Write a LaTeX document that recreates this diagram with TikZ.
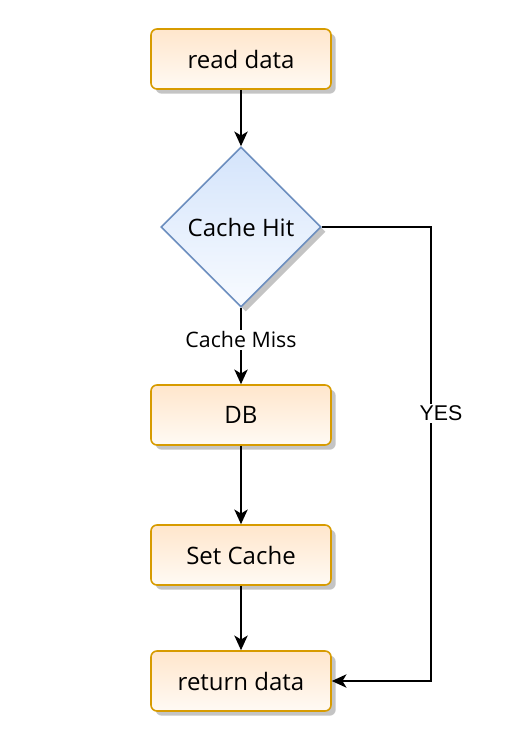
\documentclass[tikz,border=0pt]{standalone}
\usepackage{fontspec}
\setmainfont{Open Sans}
\newfontfamily\yesfont{Liberation Sans}
\usetikzlibrary{shapes.geometric,shadows,arrows.meta}
\definecolor{boxtop}{HTML}{FFE6CC}
\definecolor{boxbot}{HTML}{FFFAF4}
\definecolor{boxline}{HTML}{D79B00}
\definecolor{dtop}{HTML}{D4E4FB}
\definecolor{dbot}{HTML}{F8FBFF}
\definecolor{dline}{HTML}{6C8EBF}
\definecolor{shadowgray}{HTML}{C4C4C4}
\tikzset{
  procbox/.style={rectangle, rounded corners=4.5pt, draw=boxline, line width=1.2pt,
    top color=boxtop, bottom color=boxbot, minimum width=135pt, minimum height=45pt,
    inner sep=0pt, font=\fontsize{18}{21}\selectfont,
    drop shadow={shadow xshift=3.5pt, shadow yshift=-3.5pt, fill=shadowgray, opacity=1}},
  decision/.style={diamond, aspect=1, draw=dline, line width=1.2pt,
    top color=dtop, bottom color=dbot, minimum width=120pt, minimum height=120pt,
    inner sep=0pt, font=\fontsize{18}{21}\selectfont,
    drop shadow={shadow xshift=3.5pt, shadow yshift=-3.5pt, fill=shadowgray, opacity=1}},
  conn/.style={draw=black, line width=1.4pt, -{Stealth[length=11pt, width=10pt, inset=3pt]}},
  edgelabel/.style={fill=white, inner sep=1.5pt, font=\fontsize{16}{19}\selectfont},
  yeslabel/.style={fill=white, inner sep=1.5pt, font=\yesfont\fontsize{16}{19}\selectfont}
}
\begin{document}
\begin{tikzpicture}[x=0.75pt, y=-0.75pt]
\useasboundingbox (0,0) rectangle (530,753);
\node[procbox] (read) at (241,59) {read data};
\node[decision] (hit) at (241,227) {Cache Hit};
\node[procbox] (db) at (241,415) {DB};
\node[procbox] (set) at (241,555) {Set Cache};
\node[procbox] (ret) at (241,681) {return data};
\coordinate (y1) at (431,227);
\coordinate (y2) at (431,681);
\draw[conn] (read) -- (hit);
\draw[conn] (hit) -- node[edgelabel, pos=0.42] (miss) {Cache Miss} (db);
\draw[conn] (db) -- (set);
\draw[conn] (set) -- (ret);
\draw[conn] (hit.east) -- (y1) -- node[yeslabel, pos=0.41, xshift=7.5pt] (yes) {YES} (y2) -- (ret.east);
\end{tikzpicture}
\end{document}
